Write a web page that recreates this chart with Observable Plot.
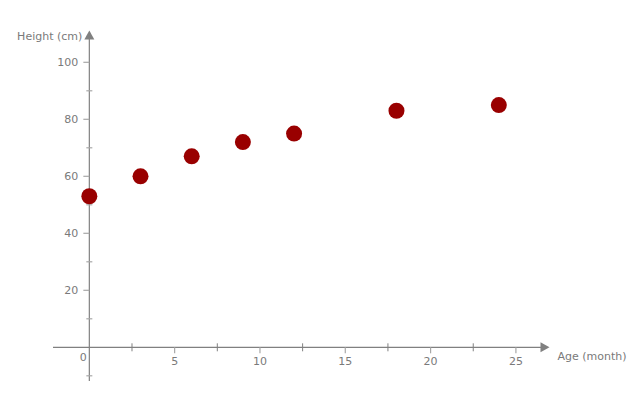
<!DOCTYPE html>
<html>
<head>
<meta charset="utf-8">
<script src="https://cdn.jsdelivr.net/npm/d3@7"></script>
<script src="https://cdn.jsdelivr.net/npm/@observablehq/plot@0.6"></script>
<style>
  html, body { margin: 0; padding: 0; background: #fff; }
  svg { display: block; }
</style>
</head>
<body>
<div id="chart"></div>
<script>
// Data
const ages = [0, 3, 6, 9, 12, 18, 24];
const heights = [53, 60, 67, 72, 75, 83, 85];
const xDomain = [-2.1, 26.5];
const yDomain = [-12, 108];
const xMajorTicks = [5, 10, 15, 20, 25];
const xMinorTicks = [2.5, 7.5, 12.5, 17.5, 22.5];
const yMajorTicks = [20, 40, 60, 80, 100];
const yMinorTicks = [-10, 10, 30, 50, 70, 90];
const xLabel = "Age (month)";
const yLabel = "Height (cm)";

const data = ages.map((a, i) => ({age: a, height: heights[i]}));

// custom symbols
const sym = (fn) => ({draw(ctx) { fn(ctx); }});
const tickDown = sym(c => { c.moveTo(0, 0); c.lineTo(0, 6); });
const tickLeft = sym(c => { c.moveTo(0, 0); c.lineTo(-6, 0); });
const tickCrossV = sym(c => { c.moveTo(0, -4); c.lineTo(0, 4); });
const tickCrossH = sym(c => { c.moveTo(-3, 0); c.lineTo(3, 0); });
const arrowRight = sym(c => { c.moveTo(-1, -5); c.lineTo(8, 0); c.lineTo(-1, 5); c.closePath(); });
const arrowUp = sym(c => { c.moveTo(-5, 0); c.lineTo(0, -9); c.lineTo(5, 0); c.closePath(); });

const axisColor = "#808080";
const tickColor = "#a8a8a8";
const textColor = "#7a7a7a";
const font = "DejaVu Sans, sans-serif";

const chart = Plot.plot({
  width: 640,
  height: 400,
  marginLeft: 53,
  marginRight: 99,
  marginTop: 39,
  marginBottom: 19,
  style: {fontFamily: font, fontSize: "11px", background: "#fff"},
  x: {domain: xDomain, axis: null},
  y: {domain: yDomain, axis: null},
  marks: [
    Plot.ruleY([0], {stroke: axisColor, strokeWidth: 1.2}),
    Plot.ruleX([0], {stroke: axisColor, strokeWidth: 1.2}),
    Plot.dot([xDomain[1]], {x: d => d, y: 0, symbol: arrowRight, fill: axisColor, stroke: "none"}),
    Plot.dot([yDomain[1]], {x: 0, y: d => d, symbol: arrowUp, fill: axisColor, stroke: "none"}),
    Plot.dot(xMajorTicks, {x: d => d, y: 0, symbol: tickDown, fill: "none", stroke: tickColor, strokeWidth: 1.2}),
    Plot.dot(xMinorTicks, {x: d => d, y: 0, symbol: tickCrossV, fill: "none", stroke: axisColor, strokeWidth: 1}),
    Plot.dot(yMajorTicks, {x: 0, y: d => d, symbol: tickLeft, fill: "none", stroke: tickColor, strokeWidth: 1.2}),
    Plot.dot(yMinorTicks, {x: 0, y: d => d, symbol: tickCrossH, fill: "none", stroke: tickColor, strokeWidth: 1.2}),
    Plot.text(xMajorTicks, {x: d => d, y: 0, text: d => String(d), dy: 14, fill: textColor, fontSize: 11}),
    Plot.text([0], {x: d => d, y: 0, text: d => String(d), dx: -6, dy: 10, fill: textColor, fontSize: 11}),
    Plot.text(yMajorTicks, {x: 0, y: d => d, text: d => String(d), dx: -11, textAnchor: "end", fill: textColor, fontSize: 11}),
    Plot.text([xLabel], {x: xDomain[1], y: 0, text: d => d, dx: 16, dy: 9, textAnchor: "start", fill: textColor, fontSize: 11}),
    Plot.text([yLabel], {x: 0, y: yDomain[1], text: d => d, dx: -7, dy: -3, textAnchor: "end", fill: textColor, fontSize: 11}),
    Plot.dot(data, {x: "age", y: "height", r: 8, fill: "#990000", stroke: "none"})
  ]
});
document.getElementById("chart").appendChild(chart);
</script>
</body>
</html>
